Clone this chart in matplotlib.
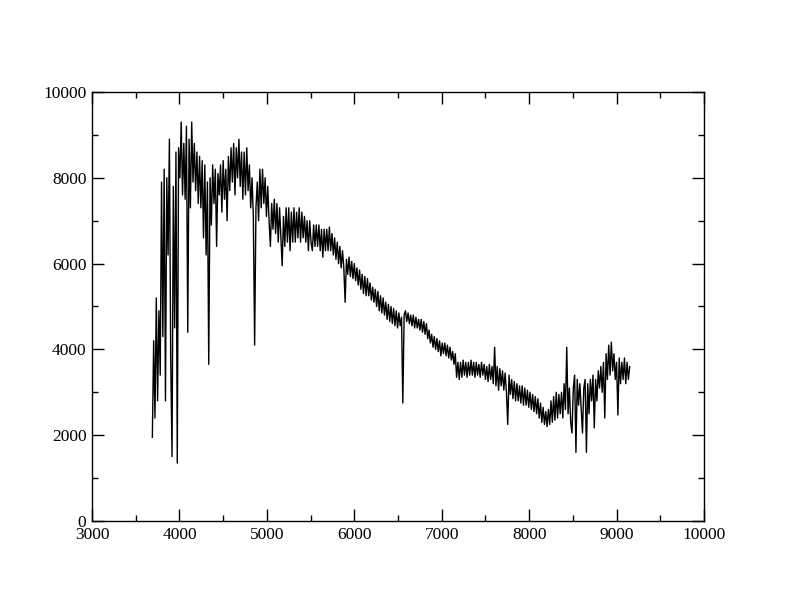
import matplotlib
matplotlib.use('Agg')
import matplotlib.pyplot as plt
from matplotlib.ticker import MultipleLocator
import numpy as np

# spectrum, one flux value every 15 A starting at 3690 A
wl_start = 3690
wl_step = 15
flux = [
    1950, 4200, 2400, 5200, 2800, 4900, 3400, 7900, 4300, 8200,
    2800, 8000, 6200, 8900, 3800, 1500, 7800, 4500, 8600, 1350,
    8700, 8000, 9300, 7600, 8800, 7500, 9200, 4400, 8900, 7300,
    9300, 7900, 8800, 7700, 8600, 7400, 8500, 7300, 8400, 6600,
    8300, 6200, 7900, 3650, 8000, 6900, 8300, 7400, 8200, 6400,
    8100, 7600, 8300, 7200, 8400, 7500, 8200, 7000, 8500, 7700,
    8700, 7900, 8800, 7600, 8700, 8000, 8900, 7800, 8600, 7500,
    8600, 7600, 8700, 7700, 8300, 7300, 8000, 7100, 4100, 7300,
    7900, 7000, 8200, 7300, 8200, 7400, 8000, 7100, 7800, 7000,
    6400, 7400, 6800, 7500, 6700, 7400, 6500, 7300, 6600, 5950,
    7100, 6400, 7300, 6500, 7300, 6300, 7200, 6500, 7300, 6500,
    7200, 6600, 7300, 6500, 7200, 6600, 7100, 6500, 7000, 6300,
    7000, 6500, 6300, 6900, 6400, 6900, 6400, 6900, 6300, 6800,
    6150, 6800, 6300, 6800, 6300, 6850, 6300, 6700, 6200, 6600,
    6100, 6500, 6000, 6400, 5900, 6300, 5900, 5100, 6100, 5750,
    6150, 5700, 6050, 5650, 6000, 5600, 5900, 5500, 5850, 5400,
    5750, 5300, 5700, 5250, 5650, 5250, 5550, 5150, 5450, 5100,
    5400, 5000, 5350, 4900, 5250, 4850, 5200, 4800, 5100, 4700,
    5050, 4650, 5000, 4600, 4950, 4550, 4900, 4500, 4850, 4550,
    4750, 2750, 4800, 4900, 4650, 4850, 4600, 4800, 4550, 4800,
    4500, 4750, 4500, 4700, 4450, 4700, 4400, 4650, 4350, 4600,
    4250, 4450, 4150, 4350, 4050, 4300, 4000, 4250, 3950, 4200,
    3850, 4150, 3900, 4150, 3850, 4100, 3800, 4050, 3750, 3950,
    3650, 3900, 3350, 3700, 3300, 3700, 3350, 3750, 3400, 3700,
    3350, 3700, 3400, 3750, 3400, 3700, 3350, 3700, 3400, 3650,
    3350, 3700, 3400, 3650, 3300, 3600, 3250, 3650, 3300, 3600,
    3200, 4050, 3150, 3600, 3050, 3550, 3150, 3500, 3050, 3450,
    3000, 2250, 3400, 2950, 3300, 2850, 3250, 2800, 3200, 2800,
    3150, 2750, 3150, 2700, 3100, 2700, 3050, 2650, 3000, 2600,
    2950, 2550, 2900, 2500, 2850, 2400, 2750, 2300, 2650, 2250,
    2550, 2200, 2600, 2250, 2800, 2300, 2900, 2350, 3000, 2400,
    2950, 2500, 3000, 2400, 3200, 2600, 4050, 2500, 3100, 2300,
    2050, 3100, 3400, 1600, 3300, 2700, 3200, 2600, 2050, 3100,
    3300, 1600, 3200, 2500, 3300, 2800, 3400, 2170, 3300, 2800,
    3500, 3100, 3600, 3000, 3700, 2400, 3900, 3300, 4100, 3400,
    4170, 3500, 3900, 3300, 3700, 2470, 3800, 3200, 3700, 3300,
    3800, 3200, 3700, 3300, 3600,
]
wavelength = wl_start + wl_step * np.arange(len(flux))

# axis settings
x_range = (3000, 10000)
y_range = (0, 10000)

plt.rcParams['font.family'] = ['Liberation Serif', 'DejaVu Serif']

fig = plt.figure(figsize=(7.92, 6.12), dpi=100)
ax = fig.add_axes([0.1162, 0.1487, 0.7727, 0.7010])

ax.plot(wavelength, flux, color='black', linewidth=1.0)

ax.set_xlim(*x_range)
ax.set_ylim(*y_range)
ax.xaxis.set_major_locator(MultipleLocator(1000))
ax.xaxis.set_minor_locator(MultipleLocator(500))
ax.yaxis.set_major_locator(MultipleLocator(2000))
ax.yaxis.set_minor_locator(MultipleLocator(1000))

# grace style ticks: inward, on every side
ax.tick_params(which='both', direction='in', top=True, right=True,
               labelsize=12.5, width=1)
ax.tick_params(which='major', length=8.5, pad=4)
ax.tick_params(which='minor', length=4.3)
for sp in ax.spines.values():
    sp.set_linewidth(1)

fig.savefig('out.png', dpi=100)
